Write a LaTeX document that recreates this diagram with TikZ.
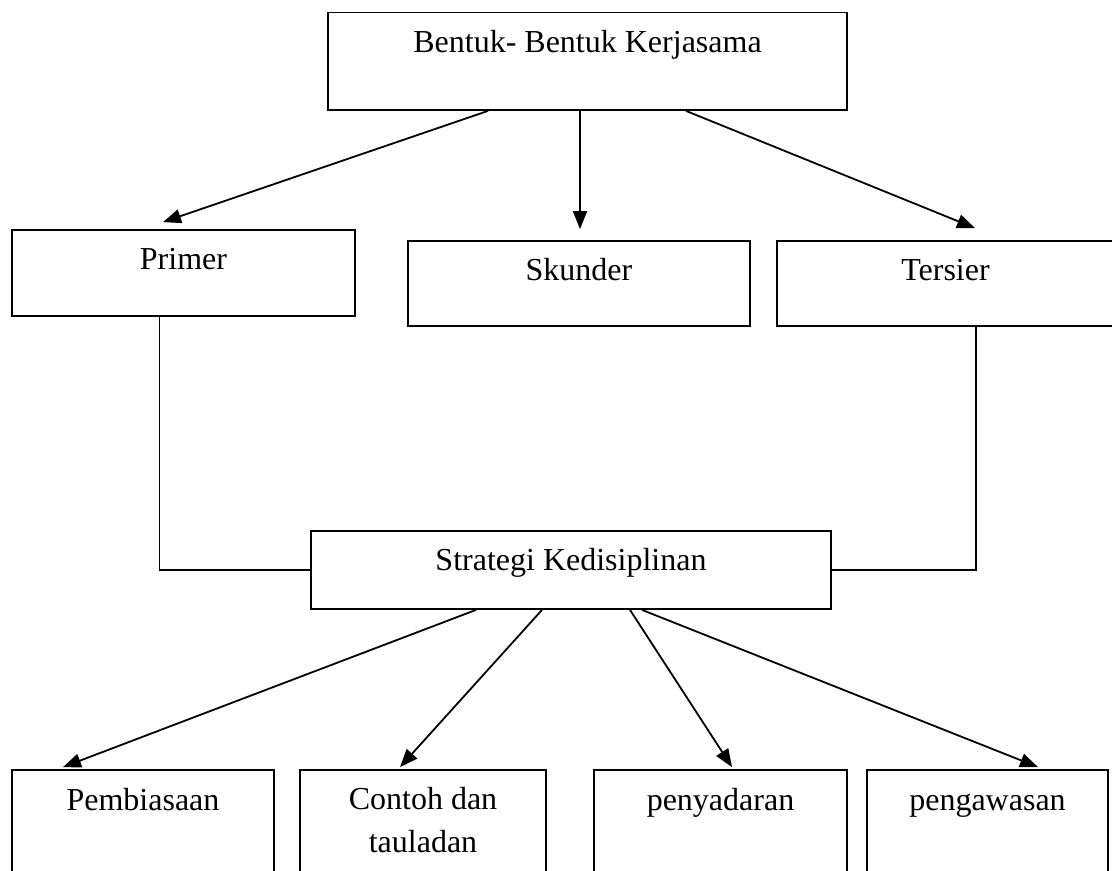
\documentclass[tikz,border=0pt]{standalone}
\usepackage{fontspec}
\setmainfont{Liberation Serif}
\usepackage{tikz}
\usetikzlibrary{arrows.meta}

\begin{document}
\begin{tikzpicture}[x=0.5pt,y=-0.5pt,>={Triangle[length=9pt,width=7pt]},line width=0.9pt,
  kotak/.style={draw,inner sep=0pt,align=center,text height=11pt,font=\fontsize{16}{21.5}\selectfont}]
\useasboundingbox (0,0) rectangle (1112,871);
\node[kotak,minimum width=259.5pt,minimum height=48.75pt,text depth=19.25pt] (bentuk)     at (587.5,61.25) {Bentuk- Bentuk Kerjasama};
\node[kotak,minimum width=171.5pt,minimum height=43pt,text depth=14.7pt]      (primer)     at (183.5,273)   {Primer};
\node[kotak,minimum width=171pt,minimum height=42.5pt,text depth=13.5pt]      (skunder)    at (579,283.5)   {Skunder};
\node[kotak,minimum width=168.5pt,minimum height=42.5pt,text depth=13.5pt]    (tersier)    at (945.5,283.5) {Tersier};
\node[kotak,minimum width=260pt,minimum height=39pt,text depth=10.3pt]        (strategi)   at (571,570)     {Strategi Kedisiplinan};
\node[kotak,minimum width=131pt,minimum height=55pt,text depth=26pt]          (pembiasaan) at (143,825)     {Pembiasaan};
\node[kotak,minimum width=123pt,minimum height=55pt,text height=32.5pt,text depth=5.5pt] (contoh) at (423,825) {Contoh dan\\tauladan};
\node[kotak,minimum width=126.5pt,minimum height=55pt,text depth=26pt]        (penyadaran) at (720.5,825)   {penyadaran};
\node[kotak,minimum width=120.5pt,minimum height=55pt,text depth=26pt]        (pengawasan) at (987.5,825)   {pengawasan};
\draw[->] ([xshift=-49.75pt]bentuk.south) -- ([xshift=-10.25pt,yshift=3.5pt]primer.north);
\draw[->] ([xshift=-3.75pt]bentuk.south) -- ([xshift=0.5pt,yshift=5.5pt]skunder.north);
\draw[->] ([xshift=49.25pt]bentuk.south) -- ([xshift=14.75pt,yshift=6pt]tersier.north);
\draw ([xshift=-12pt]primer.south) |- (strategi.west);
\draw ([xshift=15.25pt]tersier.south) |- (strategi.east);
\draw[->] ([xshift=-47.5pt]strategi.south) -- ([xshift=-40pt,yshift=1pt]pembiasaan.north);
\draw[->] ([xshift=-14.5pt]strategi.south) -- ([xshift=-11.5pt,yshift=1pt]contoh.north);
\draw[->] ([xshift=29.5pt]strategi.south) -- ([xshift=5.75pt,yshift=1pt]penyadaran.north);
\draw[->] ([xshift=35.5pt]strategi.south) -- ([xshift=25.25pt,yshift=1pt]pengawasan.north);
\end{tikzpicture}
\end{document}
